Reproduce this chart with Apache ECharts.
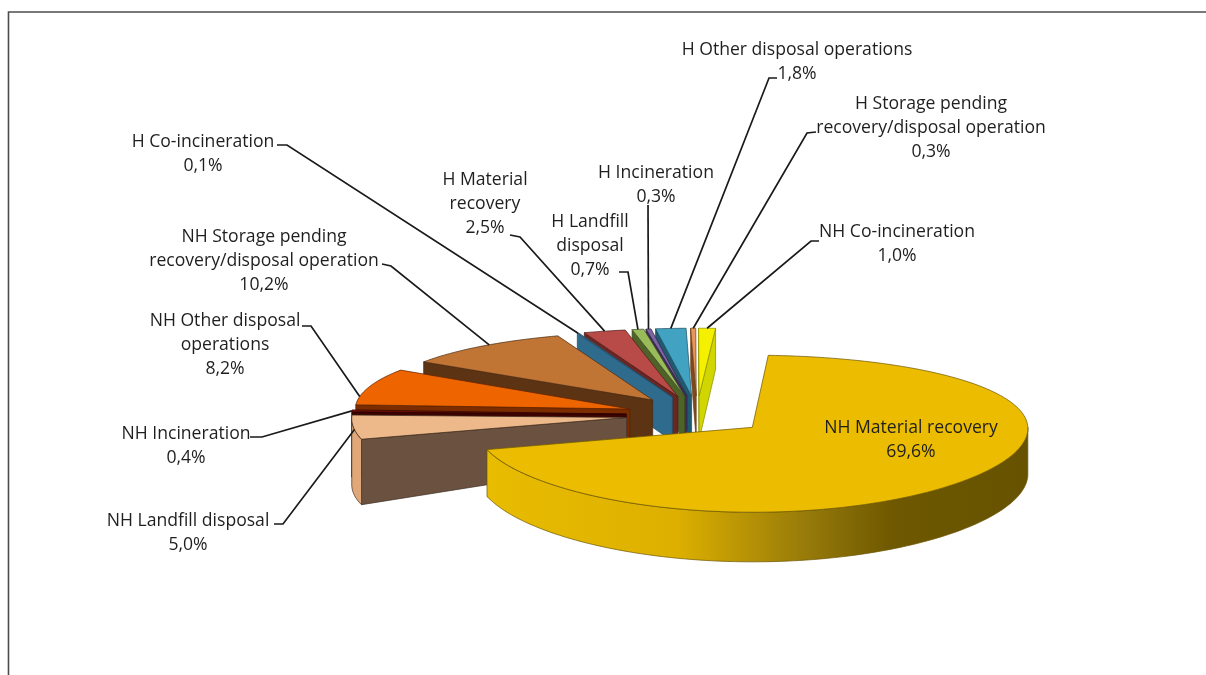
<!DOCTYPE html>
<html>
<head>
<meta charset="utf-8">
<style>html,body{margin:0;padding:0;background:#fff}#c{width:1206px;height:675px}</style>
<script src="https://cdn.jsdelivr.net/npm/echarts@6/dist/echarts.min.js"></script>
</head>
<body>
<div id="c"></div>
<script>
// ---- data (clockwise from the top of the pie) ----
const categories = [
  'NH Material recovery','NH Landfill disposal','NH Incineration','NH Other disposal\noperations',
  'NH Storage pending\nrecovery/disposal operation','H Co-incineration','H Material\nrecovery',
  'H Landfill\ndisposal','H Incineration','H Other disposal operations',
  'H Storage pending\nrecovery/disposal operation','NH Co-incineration'
];
const values = [69.6,5.0,0.4,8.2,10.2,0.1,2.5,0.7,0.3,1.8,0.3,1.0];
// ---- styles ----
const topColors  = ['#EBBC00','#EDB98A','#7A1606','#EE6500','#C07535','#3E7CA0','#B84A48','#9ABB59','#8064A2','#42A2C2','#E8965A','#F5F000'];
const wallColors = ['#E8BC00','#6B5240','#3C0300','#7B2D00','#5C3413','#2F6B8C','#6B2522','#4F6228','#3F2F5A','#1F5A70','#7F4A1D','#D2D600'];
const sideColors = ['#E8BC00','#E0A878','#3C0300','#7B2D00','#5C3413','#2F6B8C','#6B2522','#4F6228','#3F2F5A','#1F5A70','#7F4A1D','#D2D600'];
const edgeColors = ['#6B5500','#3C2C20','#2A0000','#5A2000','#4A2A10','#1F4C66','#4E1A18','#3A4A1C','#2F2244','#1B4A5C','#6A3C14','#8A8C00'];
const bigWallStops = [[0,'#E8BC00'],[0.35,'#DDB000'],[0.6,'#94780A'],[0.75,'#6E5800'],[1,'#665200']];
// ---- layout of the projected pie ----
const pie = {ox:697, oy:415, rx:275, ry:76, perspY:0.08, perspX:0.012, explode:0.257, wall:45, wallFlare:0.9, startDeg:3.5};
// ---- label layout: text centre, elbow start, elbow end ----
const labelCentres = [[911,427],[188,520],[186,433],[225,320],[264,236],[203,141],[485,179],[590,221],[656,172],[797,49],[931,103],[897,231]];
const labelElbows  = [null,[[274,524],[283,524]],[[250,437],[262,437]],[[302,326],[311,326]],[[382,264],[391,266]],[[277,145],[287,145]],[[510,235],[520,237]],[[619,272],[628,272]],[[648,205],[648,205]],[[777,78],[769,78]],[[816,132],[807,133]],[[819,241],[811,241]]];
const leaderFractions = [0,0.4,0.5,0.22,0.55,0.5,0.5,0.5,0.5,0.5,0.5,0.5];

const RAD = Math.PI/180;
const total = values.reduce((a,b)=>a+b,0);
const spans = [];
{ let t = pie.startDeg;
  values.forEach(v=>{ const d = v/total*360; spans.push([t,t+d]); t+=d; }); }

function project(U,W,drop){
  const s = 1/(1-pie.perspY*W), sx = 1/(1-pie.perspX*W);
  const flare = 1 + pie.wallFlare*Math.max(0,-U-0.75);
  return [pie.ox + pie.rx*U*sx, pie.oy + pie.ry*W*s + (drop? pie.wall*s*flare:0)];
}
function apexUW(i){
  const m = (spans[i][0]+spans[i][1])/2*RAD;
  return [pie.explode*Math.sin(m), -pie.explode*Math.cos(m)];
}
function rimPoint(i,deg,drop){
  const a = apexUW(i), r = deg*RAD;
  return project(a[0]+Math.sin(r), a[1]-Math.cos(r), drop);
}
function apexPoint(i,drop){ const a = apexUW(i); return project(a[0],a[1],drop); }

function arc(i,from,to,drop){
  const n = Math.max(2,Math.ceil(Math.abs(to-from)/1.5)), pts=[];
  for(let k=0;k<=n;k++) pts.push(rimPoint(i,from+(to-from)*k/n,drop));
  return pts;
}
// paint order: back slices first
const ranks = values.map((v,i)=>i).sort((a,b)=>apexUW(a)[1]-apexUW(b)[1]);

function renderSlice(params,api){
  const i = api.value(0), a = spans[i][0], b = spans[i][1];
  const rank = ranks.indexOf(i), kids = [];
  const base = rank*10+1;
  const poly = (pts,fill,z)=>kids.push({type:'polygon',shape:{points:pts},z2:base+z,silent:true,
     style:{fill:fill,stroke:edgeColors[i],lineWidth:0.7,lineJoin:'round'}});
  // cut walls
  if(Math.sin(a*RAD)<0) poly([apexPoint(i),rimPoint(i,a),rimPoint(i,a,true),apexPoint(i,true)],wallColors[i],0);
  if(Math.sin(b*RAD)>0) poly([apexPoint(i),rimPoint(i,b),rimPoint(i,b,true),apexPoint(i,true)],wallColors[i],0);
  // rim wall (front half only)
  const ra = Math.max(a,90), rb = Math.min(b,270);
  if(rb>ra){
    const upper = arc(i,ra,rb), lower = arc(i,rb,ra,true);
    const fill = i===0 ? new echarts.graphic.LinearGradient(1,0,0,0,bigWallStops.map(s=>({offset:1-s[0],color:s[1]}))) : sideColors[i];
    poly(upper.concat(lower),fill,1);
  }
  // top face
  poly([apexPoint(i)].concat(arc(i,a,b)),topColors[i],2);
  return {type:'group',children:kids};
}
function renderLabel(params,api){
  const i = api.value(0), c = labelCentres[i], kids = [];
  const txt = categories[i]+'\n'+values[i].toFixed(1).replace('.',',')+'%';
  kids.push({type:'text',z2:300,silent:true,style:{x:c[0],y:c[1]-11.7,text:txt,fill:'#1f1f1f',
     font:'17.6px "Open Sans", sans-serif',align:'center',verticalAlign:'top',lineHeight:24.4,textLineHeight:24.4}});
  const e = labelElbows[i];
  if(e){
    const deg = spans[i][0]+(spans[i][1]-spans[i][0])*leaderFractions[i];
    kids.push({type:'polyline',z2:299,silent:true,shape:{points:[e[0],e[1],rimPoint(i,deg)]},
       style:{fill:'none',stroke:'#1a1a1a',lineWidth:1.7}});
  }
  return {type:'group',children:kids};
}
const idx = values.map((v,i)=>[i,v]);
const chart = echarts.init(document.getElementById('c'),null,{renderer:'canvas'});
chart.setOption({
  animation:false,
  backgroundColor:'#fff',
  graphic:[{type:'polyline',silent:true,z:0,shape:{points:[[8.5,675],[8.5,12],[1206,12]]},
            style:{fill:'none',stroke:'#4d4d4d',lineWidth:1.6}}],
  series:[
    {type:'custom',coordinateSystem:'none',data:idx,renderItem:renderSlice,silent:true,z:2},
    {type:'custom',coordinateSystem:'none',data:idx,renderItem:renderLabel,silent:true,z:3}
  ]
});
</script>
</body>
</html>
